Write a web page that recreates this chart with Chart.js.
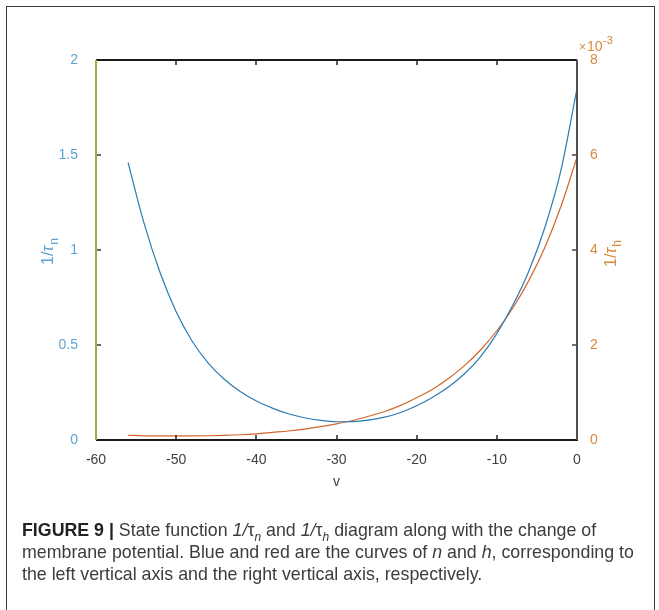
<!DOCTYPE html>
<html>
<head>
<meta charset="utf-8">
<script src="https://cdn.jsdelivr.net/npm/chart.js@4.4.1/dist/chart.umd.min.js"></script>
<style>
  html, body { margin: 0; padding: 0; background: #fff; }
  #wrap { position: relative; width: 659px; height: 610px; overflow: hidden; }
  #frame {
    position: absolute; left: 6px; top: 6px; width: 647px; height: 640px;
    border: 1.5px solid #3a3a3a; pointer-events: none;
  }
  #plot { position: absolute; left: 0; top: 0; }
  #caption {
    position: absolute; left: 22px; top: 519px; width: 636px;
    font-family: "Liberation Sans", Arial, sans-serif; font-size: 17.8px;
    line-height: 22px; color: #3c3c3c; white-space: nowrap;
  }
  #caption b { color: #222; }
  #caption sub { font-size: 12px; line-height: 0; }
</style>
</head>
<body>
<div id="wrap">
  <canvas id="plot" width="659" height="500"></canvas>
  <div id="frame"></div>
  <div id="caption"><b>FIGURE 9 |</b> State function <i>1/</i>τ<sub><i>n</i></sub> and <i>1/</i>τ<sub><i>h</i></sub> diagram along with the change of<br>membrane potential. Blue and red are the curves of <i>n</i> and <i>h</i>, corresponding to<br>the left vertical axis and the right vertical axis, respectively.</div>
</div>
<script>
// membrane potential (mV)
const voltage = [-56, -54, -52, -50, -48, -46, -44, -42, -40, -38, -36, -34, -32, -30,
  -28, -26, -24, -22, -20, -18, -16, -14, -12, -10, -8, -6, -4, -2, 0];

// 1/tau_n, left axis
const invTauN = [1.46, 1.14, 0.88, 0.675, 0.52, 0.405, 0.32, 0.255, 0.205, 0.168, 0.138, 0.117,
  0.103, 0.096, 0.097, 0.105, 0.12, 0.145, 0.18, 0.225, 0.28, 0.35, 0.44, 0.56, 0.71, 0.89,
  1.12, 1.42, 1.85];

// 1/tau_h, right axis, in units of 1e-3
const invTauH = [0.10, 0.088, 0.085, 0.085, 0.086, 0.09, 0.097, 0.11, 0.13, 0.16, 0.19, 0.23,
  0.28, 0.34, 0.41, 0.50, 0.60, 0.73, 0.89, 1.07, 1.30, 1.57, 1.90, 2.30, 2.78, 3.36, 4.06,
  4.92, 5.95];

const xTicks = [-60, -50, -40, -30, -20, -10, 0];
const leftTicks = [0, 0.5, 1, 1.5, 2];
const rightTicks = [0, 2, 4, 6, 8];

const BLUE = '#2b7bb3';
const ORANGE = '#d2642a';
const BLUE_TXT = '#5ea3d2';
const ORANGE_TXT = '#d98a3c';
const FONT = '"Liberation Sans", Arial, sans-serif';

// inward ticks, box lines, rotated axis titles and the exponent tag
const axisDecor = {
  id: 'axisDecor',
  afterDraw(chart) {
    const { ctx, chartArea: a, scales } = chart;
    const tk = 5;
    const seg = (x1, y1, x2, y2) => { ctx.beginPath(); ctx.moveTo(x1, y1); ctx.lineTo(x2, y2); ctx.stroke(); };
    ctx.save();

    ctx.lineWidth = 1.5;
    ctx.strokeStyle = '#222';
    xTicks.forEach(v => {
      const px = Math.round(scales.x.getPixelForValue(v));
      seg(px, a.bottom, px, a.bottom - tk);
      seg(px, a.top, px, a.top + tk);
    });
    ctx.strokeStyle = '#333';
    leftTicks.forEach(v => {
      const py = Math.round(scales.yL.getPixelForValue(v));
      seg(a.left, py, a.left + tk, py);
    });
    ctx.strokeStyle = '#444';
    rightTicks.forEach(v => {
      const py = Math.round(scales.yR.getPixelForValue(v));
      seg(a.right, py, a.right - tk, py);
    });

    // box
    ctx.lineWidth = 2;
    ctx.strokeStyle = '#1a1a1a';
    seg(a.left, a.top, a.right, a.top);
    seg(a.left, a.bottom, a.right + 1, a.bottom);
    ctx.strokeStyle = '#9fae45';
    seg(a.left, a.top, a.left, a.bottom);
    ctx.strokeStyle = '#4d4d4d';
    seg(a.right, a.top, a.right, a.bottom);

    // rotated titles: 1/τ with subscript
    const title = (sub, cx, cy, color) => {
      ctx.save();
      ctx.translate(cx, cy);
      ctx.rotate(-Math.PI / 2);
      ctx.fillStyle = color;
      ctx.textBaseline = 'alphabetic';
      ctx.font = '16px ' + FONT;
      const w1 = ctx.measureText('1/').width;
      ctx.font = 'italic 16px ' + FONT;
      const w2 = ctx.measureText('τ').width;
      ctx.font = '12px ' + FONT;
      const w3 = ctx.measureText(sub).width;
      let x = -(w1 + w2 + w3) / 2;
      ctx.font = '16px ' + FONT;
      ctx.fillText('1/', x, 5); x += w1;
      ctx.font = 'italic 16px ' + FONT;
      ctx.fillText('τ', x, 5); x += w2;
      ctx.font = '12px ' + FONT;
      ctx.fillText(sub, x + 1, 10);
      ctx.restore();
    };
    title('n', 48, 252, BLUE_TXT);
    title('h', 611, 254, ORANGE_TXT);

    // ×10^-3 tag over the right axis
    ctx.fillStyle = ORANGE_TXT;
    ctx.textBaseline = 'alphabetic';
    ctx.font = '12px ' + FONT;
    ctx.fillText('×', a.right + 2, 51);
    ctx.font = '14px ' + FONT;
    ctx.fillText('10', a.right + 10, 51);
    ctx.font = '11px ' + FONT;
    ctx.fillText('-3', a.right + 26, 44);

    ctx.restore();
  }
};

new Chart(document.getElementById('plot'), {
  type: 'line',
  data: {
    datasets: [
      {
        label: '1/τn',
        data: voltage.map((v, i) => ({ x: v, y: invTauN[i] })),
        yAxisID: 'yL',
        borderColor: BLUE,
        borderWidth: 1.2,
        pointRadius: 0,
        cubicInterpolationMode: 'monotone'
      },
      {
        label: '1/τh',
        data: voltage.map((v, i) => ({ x: v, y: invTauH[i] })),
        yAxisID: 'yR',
        borderColor: ORANGE,
        borderWidth: 1.2,
        pointRadius: 0,
        cubicInterpolationMode: 'monotone'
      }
    ]
  },
  options: {
    responsive: false,
    animation: false,
    layout: { padding: { top: 60, left: 0, right: 0, bottom: 0 } },
    plugins: { legend: { display: false }, tooltip: { enabled: false } },
    scales: {
      x: {
        type: 'linear',
        min: -60, max: 0,
        afterBuildTicks: s => { s.ticks = xTicks.map(v => ({ value: v })); },
        ticks: { color: '#404040', font: { family: FONT, size: 14 }, padding: 4, maxRotation: 0 },
        grid: { display: false },
        border: { display: false },
        title: { display: true, text: 'v', color: '#404040', font: { family: FONT, size: 14 }, padding: { top: 0, bottom: 9 } },
        afterFit: s => { s.height = 60; }
      },
      yL: {
        position: 'left',
        min: 0, max: 2,
        afterBuildTicks: s => { s.ticks = leftTicks.map(v => ({ value: v })); },
        ticks: { color: BLUE_TXT, font: { family: FONT, size: 14 }, padding: 10, callback: v => String(v) },
        grid: { display: false },
        border: { display: false },
        afterFit: s => { s.width = 96; }
      },
      yR: {
        position: 'right',
        min: 0, max: 8,
        afterBuildTicks: s => { s.ticks = rightTicks.map(v => ({ value: v })); },
        ticks: { color: ORANGE_TXT, font: { family: FONT, size: 14 }, padding: 5, callback: v => String(v) },
        grid: { display: false },
        border: { display: false },
        afterFit: s => { s.width = 82; }
      }
    }
  },
  plugins: [axisDecor]
});
</script>
</body>
</html>
